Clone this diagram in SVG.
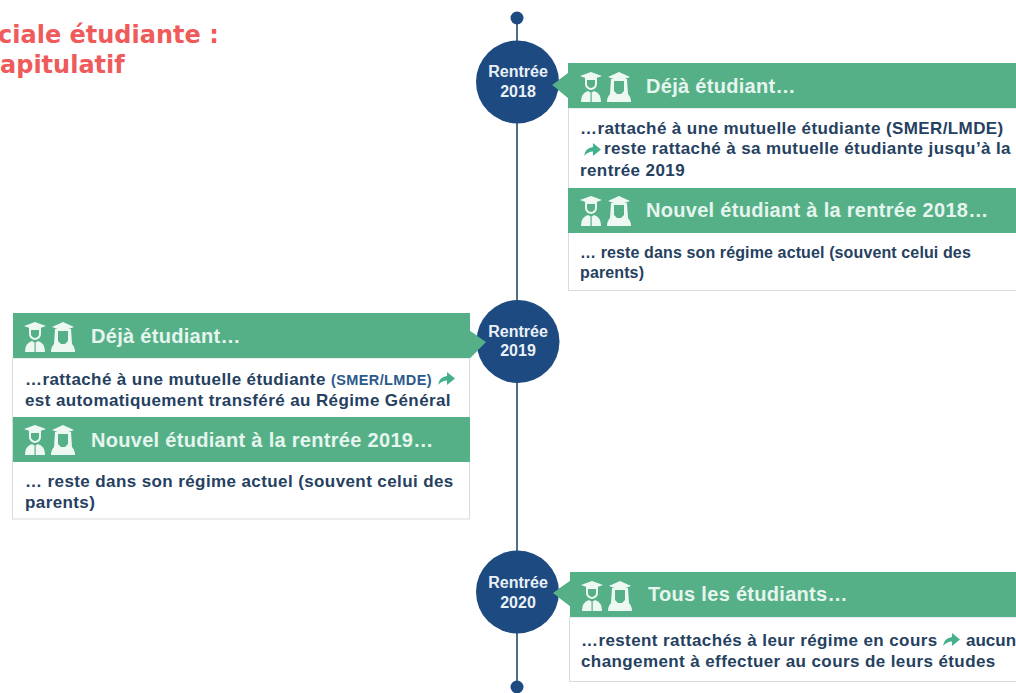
<svg xmlns="http://www.w3.org/2000/svg" width="1016" height="693" viewBox="0 0 1016 693">
<style>
.title{font:bold 24px "DejaVu Sans",sans-serif;fill:#ef5b5b}
.yr{font:bold 16px "Liberation Sans",Arial,sans-serif;fill:#e9f1f7;text-anchor:middle}
.hd{font:bold 20px "Liberation Sans",Arial,sans-serif;fill:#e6f5ee;letter-spacing:.3px}
.tx{font:bold 17px "Liberation Sans",Arial,sans-serif;fill:#25415f;letter-spacing:.4px}
.tn{font-size:16px;letter-spacing:.12px}
.sm{font-size:14.500px;fill:#2b5a8c}
.hdr{fill:#55b088}
.body{fill:#fff;stroke:#d5dde3;stroke-width:1}
.c{fill:#1d4a80}
.ln{stroke:#4f6f82;stroke-width:2;fill:none}
.arr{fill:#45b08c}
</style>
<defs>
<g id="ic">
<g fill="#eef8f3">
<path d="M-1 4 L10 0 L21 4 L10 8Z"/>
<path d="M4 6 H16 V12 Q16 17 10 18 Q4 17 4 12Z"/>
<path d="M0 30 Q0 21 7 19 L10 21 L13 19 Q20 21 20 30Z"/>
<path d="M27 5 L38 0 L49 5 L38 9Z"/>
<path d="M30 7 H46 L47 22 Q50 25 50 30 H26 Q26 25 29 22Z"/>
</g>
<g fill="#55b088">
<path d="M6 8 H14 V12 Q14 15 10 16 Q6 15 6 12Z"/>
<rect x="9.500" y="21" width="1.200" height="9"/>
<path d="M33 9 H43 V19 L40 22 H36 L33 19Z"/>
</g>
</g>
<path id="ar" class="arr" d="M0 13 Q1 5 9 4 L9 0 L17 6.500 L9 13 L9 8.500 Q4 8.500 0 13Z"/>
</defs>
<text class="title" x="-2" y="43">ciale étudiante :</text>
<text class="title" x="0" y="73">apitulatif</text>
<g id="connectors"><path class="ln" d="M517 18V687"/></g>
<g id="dot-top"><circle class="c" cx="517" cy="18" r="6.500"/></g>
<g id="dot-bottom"><circle class="c" cx="517" cy="687" r="6.500"/></g>
<g id="card-2018">
<rect class="body" x="568.500" y="108" width="460" height="182.500"/>
<path class="hdr" d="M568 63H1016V108H568V98L552 85L568 73Z"/>
<use href="#ic" x="581" y="72"/>
<text class="hd" x="646" y="93">Déjà étudiant…</text>
<text class="tx" x="580" y="134">…rattaché à une mutuelle étudiante (SMER/LMDE)</text>
<use href="#ar" x="584" y="143"/>
<text class="tx" x="604" y="154">reste rattaché à sa mutuelle étudiante jusqu’à la</text>
<text class="tx" x="580" y="176">rentrée 2019</text>
<rect class="hdr" x="568" y="188" width="448" height="45"/>
<use href="#ic" x="581" y="196"/>
<text class="hd" x="646" y="217">Nouvel étudiant à la rentrée 2018…</text>
<text class="tx tn" x="580" y="258">… reste dans son régime actuel (souvent celui des</text>
<text class="tx tn" x="580" y="278">parents)</text>
</g>
<g id="card-2019">
<rect class="body" x="12.500" y="358" width="457" height="161"/>
<path class="hdr" d="M13 313H470V331L486 342L470 358H13Z"/>
<use href="#ic" x="25" y="322"/>
<text class="hd" x="91" y="343">Déjà étudiant…</text>
<text class="tx" x="25" y="385">…rattaché à une mutuelle étudiante <tspan class="sm">(SMER/LMDE)</tspan></text>
<use href="#ar" x="438" y="372"/>
<text class="tx" x="25" y="406">est automatiquement transféré au Régime Général</text>
<rect class="hdr" x="13" y="417" width="457" height="45"/>
<use href="#ic" x="25" y="425"/>
<text class="hd" x="91" y="447">Nouvel étudiant à la rentrée 2019…</text>
<text class="tx" x="25" y="487">… reste dans son régime actuel (souvent celui des</text>
<text class="tx" x="25" y="508">parents)</text>
</g>
<g id="card-2020">
<rect class="body" x="569.500" y="617" width="460" height="64.500"/>
<path class="hdr" d="M570 572H1016V617H570V606L553 593L570 581Z"/>
<use href="#ic" x="582" y="581"/>
<text class="hd" x="648" y="601">Tous les étudiants…</text>
<text class="tx" x="581" y="646">…restent rattachés à leur régime en cours</text>
<use href="#ar" x="943" y="633"/>
<text class="tx" x="966" y="646" style="letter-spacing:0">aucun</text>
<text class="tx" x="581" y="667">changement à effectuer au cours de leurs études</text>
</g>
<g id="node-2018"><circle class="c" cx="517.500" cy="82" r="41.500"/><path class="hdr" d="M552 85L569 73V98Z"/><text class="yr" x="518" y="77">Rentrée</text><text class="yr" x="518" y="97">2018</text></g>
<g id="node-2019"><circle class="c" cx="518" cy="341.500" r="41.500"/><path class="hdr" d="M470 331L486 342L470 358Z"/><text class="yr" x="518" y="337">Rentrée</text><text class="yr" x="518" y="356">2019</text></g>
<g id="node-2020"><circle class="c" cx="517.500" cy="592" r="41.500"/><path class="hdr" d="M553 593L570 581V606Z"/><text class="yr" x="518" y="588">Rentrée</text><text class="yr" x="518" y="608">2020</text></g>
</svg>
